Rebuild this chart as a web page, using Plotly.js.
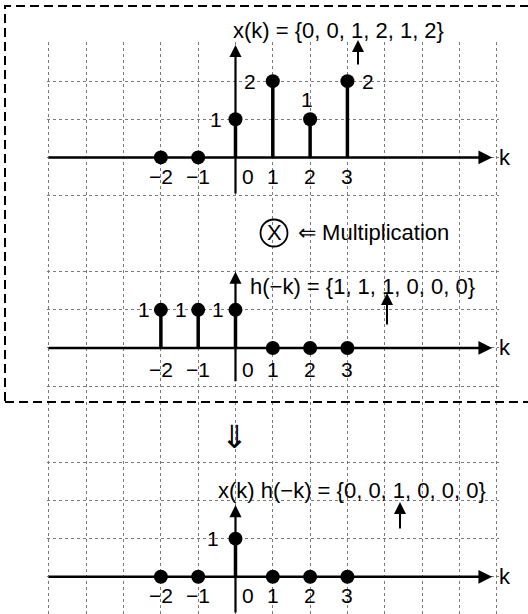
<!DOCTYPE html>
<html><head><meta charset="utf-8">
<script src="https://cdn.plot.ly/plotly-3.0.1.min.js"></script>
<style>html,body{margin:0;padding:0;background:#fff}#chart{width:528px;height:614px}</style>
</head><body><div id="chart"></div>
<script>
// ---- data ----
const K = [-2, -1, 0, 1, 2, 3];
const xk = [0, 0, 1, 2, 1, 2];          // x(k)
const hmk = [1, 1, 1, 0, 0, 0];         // h(-k)
const prod = [0, 0, 1, 0, 0, 0];        // x(k) h(-k)
const tickText = ['\u22122', '\u22121', '0', '1', '2', '3'];
const titleX = 'x(k) = {0, 0, 1, 2, 1, 2}';
const titleH = 'h(\u2212k) = {1, 1, 1, 0, 0, 0}';
const titleP = 'x(k) h(\u2212k) = {0, 0, 1, 0, 0, 0}';
const multText = '\u21d0 Multiplication';

// ---- helpers / styles ----
const W = 528, H = 614;
const px = v => v / W, py = v => 1 - v / H;
const FONT = 'Liberation Sans, Arial, Helvetica, sans-serif';
const GRID = {showgrid: true, gridcolor: '#7a7a7a', griddash: 'dot', gridwidth: 1,
  zeroline: false, showticklabels: false, ticks: '', showline: false, dtick: 1, tick0: 0, fixedrange: true};

function stemTraces(vals, ya) {
  const sx = [], sy = [];
  K.forEach((k, i) => { if (vals[i] !== 0) { sx.push(k, k, null); sy.push(0, vals[i], null); } });
  return [
    {type: 'scatter', mode: 'lines', x: sx, y: sy, xaxis: 'x', yaxis: ya,
      line: {color: '#000', width: 3.5}, hoverinfo: 'skip', showlegend: false},
    {type: 'scatter', mode: 'markers', x: K, y: vals, xaxis: 'x', yaxis: ya,
      marker: {color: '#000', size: 14}, hoverinfo: 'skip', showlegend: false}
  ];
}

const data = [].concat(stemTraces(xk, 'y'), stemTraces(hmk, 'y2'), stemTraces(prod, 'y3'));

const ann = [];
function txt(text, x, y, opts) {
  ann.push(Object.assign({text: text, x: x, y: y, xref: 'paper', yref: 'paper', showarrow: false,
    xanchor: 'center', yanchor: 'middle', font: {family: FONT, size: 21, color: '#000'}}, opts || {}));
}
// panel decorations: axis arrows, tick labels, value labels
const panels = [
  {ya: 'y', vals: xk, tickShift: -19, vTip: 2.95, vLen: 150, labelOff: {2: [-19, 0], 3: [-23, 0], 4: [-3, 20], 5: [21, 0]}},
  {ya: 'y2', vals: hmk, tickShift: -22, vTip: 2.0, vLen: 111, labelOff: {0: [-17, 0], 1: [-17, 0], 2: [-17, 0]}},
  {ya: 'y3', vals: prod, tickShift: -19, vTip: 1.88, vLen: 109, labelOff: {2: [-22, 0]}}
];
panels.forEach(p => {
  // horizontal axis
  ann.push({x: 6.88, y: 0, xref: 'x', yref: p.ya, ax: -445, ay: 0, axref: 'pixel', ayref: 'pixel',
    showarrow: true, arrowhead: 2, arrowwidth: 2.5, arrowsize: 1.1, arrowcolor: '#000', text: ''});
  // vertical axis
  ann.push({x: 0, y: p.vTip, xref: 'x', yref: p.ya, ax: 0, ay: p.vLen, axref: 'pixel', ayref: 'pixel',
    showarrow: true, arrowhead: 2, arrowwidth: 2.2, arrowsize: 1.1, arrowcolor: '#000', text: ''});
  // k label
  ann.push({text: 'k', x: px(505), y: 0, xref: 'paper', yref: p.ya, showarrow: false, xanchor: 'center',
    yanchor: 'middle', font: {family: FONT, size: 22, color: '#000'}});
  // tick labels
  K.forEach((k, i) => {
    ann.push({text: tickText[i], x: k, y: 0, xref: 'x', yref: p.ya, showarrow: false,
      xanchor: 'center', yanchor: 'middle', yshift: p.tickShift, xshift: k === 0 ? 13 : 0,
      font: {family: FONT, size: 21, color: '#000'}});
  });
  // value labels
  Object.keys(p.labelOff).forEach(i => {
    const o = p.labelOff[i];
    ann.push({text: String(p.vals[i]), x: K[i], y: p.vals[i], xref: 'x', yref: p.ya, showarrow: false,
      xanchor: 'center', yanchor: 'middle', xshift: o[0], yshift: o[1],
      font: {family: FONT, size: 21, color: '#000'}});
  });
});
// titles
txt(titleX, px(231), py(30), {xanchor: 'left', font: {family: FONT, size: 22, color: '#000'}});
txt(titleH, px(248), py(286), {xanchor: 'left', font: {family: FONT, size: 22, color: '#000'}});
txt(titleP, px(216), py(490), {xanchor: 'left', font: {family: FONT, size: 22, color: '#000'}});
txt(multText, px(296), py(233), {xanchor: 'left', font: {family: FONT, size: 22, color: '#000'}});
txt('X', px(274), py(233), {font: {family: FONT, size: 22, color: '#000'}});
txt('\u21d3', px(234), py(437), {font: {family: 'DejaVu Sans, sans-serif', size: 32, color: '#000'}});
// small up arrows under the "1" entries
function upArrow(x, tipY, tailY) {
  ann.push({x: px(x), y: py(tipY), xref: 'paper', yref: 'paper', ax: 0, ay: tailY - tipY,
    axref: 'pixel', ayref: 'pixel', showarrow: true, arrowhead: 2, arrowwidth: 2, arrowsize: 1.2,
    arrowcolor: '#000', text: ''});
}
upArrow(358, 40, 66);
upArrow(387, 293, 326);
upArrow(400, 502, 530);

const shapes = [
  {type: 'rect', xref: 'paper', yref: 'paper', x0: px(5), x1: px(545), y0: py(402), y1: py(6),
    line: {color: '#000', width: 2, dash: '9px,5px'}, fillcolor: 'rgba(0,0,0,0)'},
  {type: 'circle', xref: 'paper', yref: 'paper', x0: px(274 - 13.5), x1: px(274 + 13.5),
    y0: py(233 + 13.5), y1: py(233 - 13.5), line: {color: '#000', width: 1.8}, fillcolor: 'rgba(0,0,0,0)'}
];

const layout = {
  width: W, height: H, autosize: false,
  margin: {l: 0, r: 0, t: 0, b: 0, pad: 0},
  paper_bgcolor: '#fff', plot_bgcolor: 'rgba(0,0,0,0)',
  showlegend: false,
  font: {family: FONT, color: '#000'},
  xaxis: Object.assign({}, GRID, {domain: [47.1 / W, 498.5 / W], range: [-5.05, 7.05], anchor: 'y3'}),
  yaxis: Object.assign({}, GRID, {domain: [0.61824, 0.93119], range: [-2.02, 3.02], anchor: 'x'}),
  yaxis2: Object.assign({}, GRID, {domain: [0.30779, 0.61829], range: [-2.02, 2.98], anchor: 'x'}),
  yaxis3: Object.assign({}, GRID, {domain: [0, 0.30775], range: [-0.976, 3.98], anchor: 'x'}),
  annotations: ann,
  shapes: shapes
};

Plotly.newPlot('chart', data, layout, {staticPlot: true, displayModeBar: false});
</script>
</body></html>
